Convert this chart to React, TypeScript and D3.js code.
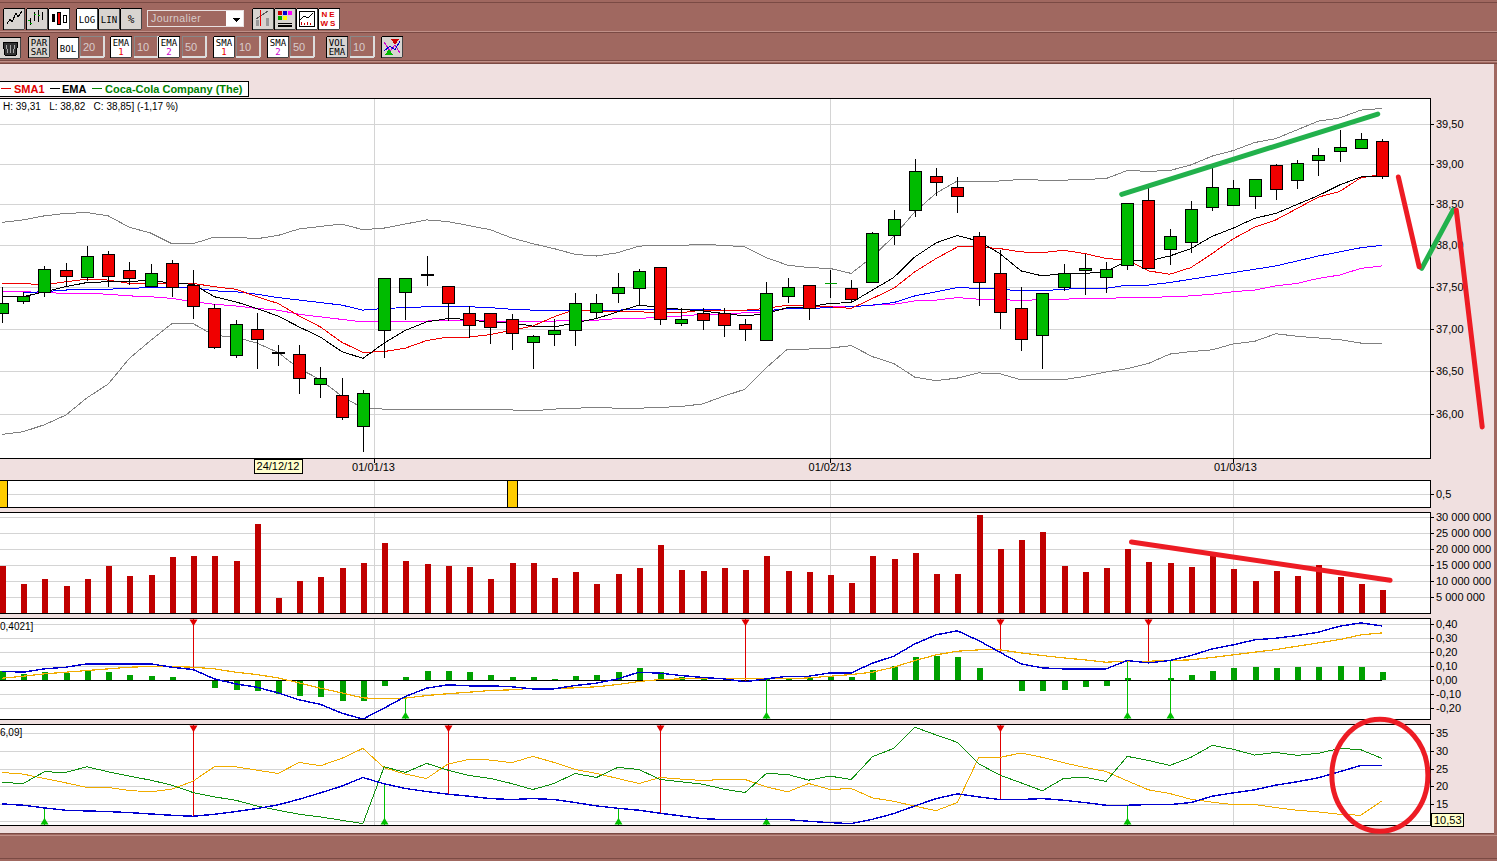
import React from 'react'
import * as d3 from 'd3'

const WIDTH = 1497
const HEIGHT = 861
const RIGHT = 1430

// candles, one per trading day from idx 0
const opens = [37.19, 37.33, 37.44, 37.7, 37.62, 37.89, 37.7, 37.51, 37.79, 37.52, 37.25, 36.69, 37.0, 36.72, 36.7, 36.35, 36.22, 35.87, 36.99, 37.44, 37.65, 37.51, 37.19, 37.19, 37.12, 36.84, 36.94, 36.99, 37.2, 37.43, 37.49, 37.74, 37.07, 37.19, 37.18, 37.06, 36.87, 37.39, 37.52, 37.54, 37.48, 37.56, 38.13, 38.43, 38.85, 38.71, 38.11, 37.67, 37.24, 36.93, 37.5, 37.7, 37.62, 37.76, 38.56, 37.95, 38.04, 38.47, 38.49, 38.6, 38.99, 38.8, 39.05, 39.17, 39.2, 39.29]
const highs = [37.5, 37.44, 37.75, 37.78, 37.99, 37.93, 37.8, 37.77, 37.82, 37.7, 37.29, 37.1, 37.19, 36.805, 36.805, 36.55, 36.42, 36.28, 37.6, 37.6, 37.87, 37.51, 37.27, 37.19, 37.17, 36.93, 37.11, 37.43, 37.41, 37.66, 37.71, 37.74, 37.25, 37.25, 37.25, 37.11, 37.56, 37.61, 37.52, 37.7, 37.58, 38.16, 38.43, 39.06, 38.95, 38.84, 38.16, 37.94, 37.5, 37.42, 37.77, 37.9, 37.8, 38.52, 38.7, 38.2, 38.54, 38.95, 38.8, 38.82, 39.0, 39.05, 39.2, 39.43, 39.39, 39.31]
const lows = [37.07, 37.29, 37.38, 37.5, 37.57, 37.5, 37.52, 37.5, 37.38, 37.11, 36.76, 36.65, 36.52, 36.565, 36.23, 36.19, 35.94, 35.565, 36.66, 37.1, 37.51, 37.09, 36.89, 36.82, 36.75, 36.52, 36.8, 36.8, 37.12, 37.31, 37.28, 37.04, 37.03, 36.99, 36.9, 36.86, 36.86, 37.3, 37.1, 37.36, 37.3, 37.56, 38.0, 38.35, 38.6, 38.4, 37.27, 37.0, 36.74, 36.53, 37.45, 37.4, 37.42, 37.7, 37.72, 37.76, 37.91, 38.42, 38.49, 38.45, 38.56, 38.69, 38.85, 39.03, 39.19, 38.82]
const closes = [37.31, 37.385, 37.71, 37.63, 37.865, 37.63, 37.6, 37.66, 37.5, 37.27, 36.78, 37.05, 36.88, 36.72, 36.42, 36.42, 35.965, 36.245, 37.6, 37.6, 37.65, 37.3, 37.04, 37.02, 36.95, 36.91, 36.99, 37.31, 37.31, 37.5, 37.69, 37.12, 37.12, 37.1, 37.04, 37.0, 37.42, 37.5, 37.24, 37.54, 37.35, 38.15, 38.32, 38.91, 38.775, 38.61, 37.56, 37.2, 36.88, 37.42, 37.67, 37.73, 37.71, 38.52, 37.72, 38.11, 38.45, 38.72, 38.7, 38.82, 38.69, 39.02, 39.12, 39.22, 39.31, 38.85]
const thinDoji = [39]

// overlays on the price panel
const bollUpper = [38.28, 38.31, 38.36, 38.39, 38.4, 38.36, 38.22, 38.15, 38.02, 38.02, 38.1, 38.1, 38.08, 38.12, 38.2, 38.23, 38.26, 38.19, 38.21, 38.26, 38.31, 38.29, 38.24, 38.19, 38.09, 38.02, 37.96, 37.89, 37.87, 37.91, 37.99, 38.0, 38.0, 38.01, 38.0, 37.98, 37.85, 37.76, 37.73, 37.72, 37.66, 37.86, 38.11, 38.41, 38.64, 38.79, 38.78, 38.79, 38.81, 38.8, 38.8, 38.81, 38.82, 38.92, 38.91, 38.92, 38.99, 39.1, 39.17, 39.27, 39.32, 39.43, 39.54, 39.58, 39.68, 39.7]
const bollLower = [35.77, 35.8, 35.88, 35.99, 36.19, 36.35, 36.65, 36.86, 37.06, 37.06, 36.92, 36.9, 36.83, 36.72, 36.53, 36.4, 36.21, 36.07, 36.06, 36.06, 36.06, 36.06, 36.05, 36.05, 36.05, 36.04, 36.06, 36.07, 36.08, 36.07, 36.07, 36.08, 36.09, 36.12, 36.21, 36.29, 36.54, 36.76, 36.76, 36.77, 36.8, 36.67, 36.59, 36.43, 36.39, 36.42, 36.48, 36.47, 36.4, 36.4, 36.4, 36.44, 36.49, 36.53, 36.59, 36.7, 36.73, 36.75, 36.82, 36.85, 36.94, 36.91, 36.89, 36.87, 36.83, 36.83]
const ema1 = [37.38, 37.38, 37.44, 37.5, 37.55, 37.56, 37.56, 37.58, 37.54, 37.53, 37.38, 37.32, 37.24, 37.15, 37.02, 36.9, 36.73, 36.65, 36.83, 36.98, 37.08, 37.12, 37.11, 37.07, 37.07, 37.03, 37.02, 37.07, 37.12, 37.2, 37.28, 37.25, 37.23, 37.21, 37.18, 37.15, 37.18, 37.25, 37.26, 37.3, 37.31, 37.46, 37.61, 37.86, 38.03, 38.12, 38.05, 37.9, 37.69, 37.63, 37.66, 37.66, 37.68, 37.81, 37.81, 37.87, 37.96, 38.11, 38.21, 38.33, 38.39, 38.5, 38.61, 38.74, 38.84, 38.85]
const sma1 = [37.54, 37.54, 37.52, 37.56, 37.59, 37.58, 37.54, 37.53, 37.54, 37.54, 37.5, 37.47, 37.38, 37.3, 37.15, 37.02, 36.84, 36.72, 36.73, 36.77, 36.86, 36.9, 36.9, 36.93, 36.98, 37.03, 37.14, 37.23, 37.2, 37.2, 37.2, 37.19, 37.19, 37.22, 37.22, 37.22, 37.24, 37.28, 37.27, 37.26, 37.24, 37.36, 37.48, 37.68, 37.84, 37.98, 37.98, 37.96, 37.92, 37.91, 37.94, 37.9, 37.84, 37.82, 37.69, 37.65, 37.73, 37.9, 38.08, 38.22, 38.31, 38.45, 38.59, 38.66, 38.83, 38.87]
const ema2 = [null, 37.43, 37.44, 37.46, 37.47, 37.47, 37.48, 37.49, 37.49, 37.49, 37.45, 37.44, 37.41, 37.37, 37.34, 37.31, 37.28, 37.22, 37.24, 37.25, 37.26, 37.26, 37.26, 37.25, 37.23, 37.22, 37.21, 37.21, 37.21, 37.22, 37.23, 37.23, 37.23, 37.23, 37.22, 37.21, 37.21, 37.24, 37.24, 37.25, 37.26, 37.28, 37.31, 37.39, 37.44, 37.49, 37.48, 37.47, 37.45, 37.45, 37.47, 37.48, 37.48, 37.52, 37.52, 37.55, 37.59, 37.63, 37.67, 37.71, 37.75, 37.81, 37.87, 37.92, 37.97, 38.0]
const sma2 = [37.44, 37.44, 37.43, 37.42, 37.42, 37.41, 37.39, 37.38, 37.36, 37.32, 37.29, 37.27, 37.24, 37.22, 37.17, 37.14, 37.11, 37.08, 37.08, 37.09, 37.09, 37.1, 37.1, 37.09, 37.09, 37.09, 37.09, 37.1, 37.1, 37.12, 37.12, 37.14, 37.15, 37.17, 37.17, 37.19, 37.2, 37.24, 37.26, 37.26, 37.26, 37.28, 37.29, 37.33, 37.34, 37.37, 37.35, 37.35, 37.33, 37.35, 37.35, 37.36, 37.36, 37.37, 37.37, 37.38, 37.39, 37.41, 37.44, 37.46, 37.51, 37.54, 37.6, 37.64, 37.72, 37.75]

// volume, in millions of shares
const volumes = [14.8, 9.2, 10.7, 8.5, 10.7, 14.8, 11.7, 12, 17.6, 17.9, 17.9, 16.4, 27.9, 4.8, 10.1, 11.4, 14.2, 15.7, 22, 16.4, 15.4, 14.8, 14.5, 10.7, 15.7, 15.7, 11, 12.9, 9.2, 12.3, 14.2, 21.4, 13.5, 13.2, 14.2, 13.5, 17.9, 13.2, 12.9, 12, 9.5, 17.9, 17, 18.9, 12.3, 12.3, 30.7, 20.1, 22.9, 25.4, 14.8, 12.9, 14.2, 20.1, 16, 15.7, 14.5, 17.9, 13.9, 10.1, 13.2, 11.7, 15.1, 11.4, 9.2, 7.3]

// MACD panel
const macdLine = [0.062, 0.055, 0.079, 0.091, 0.115, 0.115, 0.115, 0.115, 0.091, 0.074, 0.007, -0.029, -0.053, -0.094, -0.144, -0.177, -0.24, -0.283, -0.204, -0.12, -0.06, -0.036, -0.043, -0.043, -0.05, -0.065, -0.065, -0.041, -0.024, 0.007, 0.055, 0.048, 0.031, 0.017, 0.007, -0.014, 0.007, 0.026, 0.026, 0.05, 0.05, 0.12, 0.17, 0.259, 0.324, 0.353, 0.283, 0.199, 0.115, 0.086, 0.079, 0.079, 0.079, 0.139, 0.122, 0.139, 0.175, 0.223, 0.252, 0.288, 0.3, 0.319, 0.343, 0.386, 0.41, 0.388]
const macdSignal = [0.012, 0.026, 0.043, 0.055, 0.067, 0.079, 0.091, 0.096, 0.096, 0.091, 0.079, 0.055, 0.038, 0.014, -0.022, -0.06, -0.094, -0.13, -0.137, -0.132, -0.113, -0.1, -0.089, -0.077, -0.072, -0.06, -0.06, -0.058, -0.05, -0.034, -0.012, 0.002, 0.007, 0.007, 0.007, 0.007, 0.007, 0.007, 0.014, 0.026, 0.038, 0.055, 0.091, 0.139, 0.18, 0.206, 0.216, 0.216, 0.194, 0.175, 0.158, 0.144, 0.127, 0.134, 0.134, 0.139, 0.144, 0.161, 0.18, 0.199, 0.218, 0.242, 0.266, 0.29, 0.324, 0.338]
const macdHist = [0.062, 0.043, 0.053, 0.048, 0.062, 0.053, 0.038, 0.031, 0.017, -0.012, -0.062, -0.07, -0.084, -0.101, -0.12, -0.127, -0.156, -0.149, -0.048, 0.024, 0.067, 0.067, 0.053, 0.038, 0.024, 0.017, 0.007, 0.031, 0.038, 0.06, 0.082, 0.053, 0.024, 0.01, 0.002, -0.005, 0.005, 0.014, 0.019, 0.024, 0.024, 0.074, 0.103, 0.161, 0.175, 0.161, 0.082, 0, -0.077, -0.084, -0.07, -0.055, -0.048, 0.01, 0, 0.01, 0.038, 0.067, 0.082, 0.096, 0.082, 0.096, 0.096, 0.103, 0.096, 0.06]
const macdSells = [9, 35, 47, 54]
const macdBuys = [19, 36, 53, 55]

// DMI panel
const adx = [14.94, 14.56, 13.8, 13.14, 12.95, 12.76, 12.47, 12.09, 11.71, 11.43, 12.0, 12.76, 13.61, 14.66, 16.27, 18.08, 19.98, 22.45, 20.65, 19.32, 18.46, 17.7, 17.13, 16.46, 16.18, 16.46, 16.18, 15.32, 14.37, 13.71, 13.14, 12.28, 11.52, 10.76, 10.48, 10.48, 10.48, 10.48, 10.0, 9.62, 9.33, 10.57, 12.19, 14.37, 16.46, 17.79, 16.94, 16.18, 16.18, 16.46, 15.99, 15.32, 14.56, 14.56, 14.75, 14.75, 15.32, 17.13, 18.08, 18.94, 20.27, 21.22, 22.36, 24.07, 25.87, 25.87]
const diPlus = [21.03, 20.74, 24.07, 23.88, 25.49, 24.07, 22.83, 21.69, 20.27, 18.17, 16.94, 15.99, 14.37, 13.14, 12.0, 11.24, 10.29, 9.33, 25.49, 23.88, 26.44, 24.54, 23.02, 22.17, 20.74, 19.03, 20.74, 23.59, 22.45, 25.3, 24.73, 21.88, 21.22, 20.55, 19.13, 18.17, 23.59, 23.31, 21.69, 22.83, 21.88, 28.35, 30.72, 36.71, 34.52, 32.43, 26.35, 23.12, 20.93, 18.65, 22.17, 22.55, 21.31, 28.44, 27.3, 25.87, 28.16, 31.58, 30.44, 28.82, 29.58, 28.73, 29.3, 30.72, 30.34, 27.87]
const diMinus = [23.88, 23.4, 22.17, 20.93, 19.6, 19.6, 18.75, 18.37, 19.13, 21.41, 25.49, 25.49, 24.54, 23.59, 26.73, 25.78, 27.87, 30.72, 25.21, 23.4, 22.17, 26.25, 27.59, 27.4, 26.63, 28.44, 26.73, 24.73, 23.59, 22.17, 20.74, 22.45, 21.98, 21.6, 21.88, 21.88, 19.79, 18.37, 20.74, 19.03, 19.32, 16.65, 15.7, 14.28, 13.04, 15.32, 28.06, 28.16, 29.39, 28.16, 26.63, 25.3, 24.16, 21.5, 18.94, 17.89, 16.27, 15.42, 14.75, 14.75, 13.9, 13.14, 12.66, 12.0, 11.71, 15.8]
const dmiSells = [9, 21, 31, 47]
const dmiBuys = [2, 18, 29, 36, 53]

// top strip markers
const stripMarks = [0, 24]

// ticks
const priceTicks = [39.5, 39, 38.5, 38, 37.5, 37, 36.5, 36]
const volumeTicks = [30, 25, 20, 15, 10, 5]
const macdTicks = [0.4, 0.3, 0.2, 0.1, 0, -0.1, -0.2]
const dmiTicks = [35, 30, 25, 20, 15, 10]
const dmiLabels = [35, 30, 25, 20, 15]
const monthTicks = [
  { idx: 17.5, label: '01/01/13' },
  { idx: 39, label: '01/02/13' },
  { idx: 58, label: '01/03/13' },
]

// hand drawn marks, [idx, value]
const greenTrend: [number, number][] = [[52.74, 38.625], [64.8, 39.63]]
const redDrop1: [number, number][] = [[65.77, 38.84], [66.75, 37.74]]
const greenBounce: [number, number][] = [[66.87, 37.72], [68.35, 38.43]]
const redDrop2: [number, number][] = [[68.5, 38.43], [69.72, 35.855]]
const volumeTrend: [number, number][] = [[53.2, 22.3], [65.38, 10.3]]

const x = d3.scaleLinear().domain([0, 65]).range([2, 1382])
const cx = (i: number) => Math.round(x(i)) + 0.5

const main = { top: 98.5, bottom: 458.5 }
const strip = { top: 480.5, bottom: 507.5 }
const vol = { top: 512.5, bottom: 613.5 }
const macd = { top: 618.5, bottom: 719.5 }
const dmi = { top: 724.5, bottom: 825.5 }

const yPrice = d3.scaleLog().domain([36, 39.5]).range([414.3, 124.3])
const yVol = d3.scaleLinear().domain([0, 30]).range([613.3, 517.3])
const yMacd = d3.scaleLinear().domain([-0.2, 0.4]).range([707.6, 624.3])
const yDmi = d3.scaleLinear().domain([15, 35]).range([803.7, 733.3])

const commaFmt = (f: string) => {
  const fmt = d3.format(f)
  return (v: number) => fmt(v).replace('−', '-').replace('.', ',')
}
const fmtPrice = commaFmt('.2f')
const fmtVol = (m: number) => `${m >= 10 ? Math.floor(m) : m} 000 000`

const seriesPath = (values: (number | null)[], y: (v: number) => number) =>
  d3
    .line<number | null>()
    .defined(v => v != null)
    .x((_, i) => x(i))
    .y(v => y(v as number))(values) as string

const handPath = (pts: [number, number][], y: (v: number) => number) =>
  d3
    .line<[number, number]>()
    .x(d => x(d[0]))
    .y(d => y(d[1]))(pts) as string

const BROWN = '#a06860'
const PINK = '#f0e0e0'
const GRID = '#d4d4d4'
const AXIS_FONT = '"Liberation Sans", Arial, sans-serif'
const HAND_RED = '#ed1c24'
const HAND_GREEN = '#22b14c'

const Panel = ({ box, ticks, y }: { box: { top: number; bottom: number }; ticks: number[]; y: (v: number) => number }) => (
  <g shapeRendering="crispEdges">
    <rect x={-2} y={box.top} width={RIGHT + 2} height={box.bottom - box.top} fill="#fff" />
    {ticks.map(t => (
      <line key={t} x1={0} x2={RIGHT} y1={Math.round(y(t)) + 0.5} y2={Math.round(y(t)) + 0.5} stroke={GRID} />
    ))}
    {monthTicks.map(t => (
      <line key={t.label} x1={Math.round(x(t.idx)) + 0.5} x2={Math.round(x(t.idx)) + 0.5} y1={box.top} y2={box.bottom} stroke={GRID} />
    ))}
  </g>
)

const PanelFrame = ({ box }: { box: { top: number; bottom: number } }) => (
  <rect x={-2} y={box.top} width={RIGHT + 2.5} height={box.bottom - box.top} fill="none" stroke="#000" shapeRendering="crispEdges" />
)

const AxisLabels = ({ ticks, y, fmt }: { ticks: number[]; y: (v: number) => number; fmt: (v: number) => string }) => (
  <g fontFamily={AXIS_FONT} fontSize={11} fill="#000">
    {ticks.map(t => (
      <g key={t}>
        <line x1={RIGHT} x2={RIGHT + 4} y1={Math.round(y(t)) + 0.5} y2={Math.round(y(t)) + 0.5} stroke="#000" shapeRendering="crispEdges" />
        <text x={RIGHT + 6} y={y(t) + 4}>
          {fmt(t)}
        </text>
      </g>
    ))}
  </g>
)

const Signals = ({
  box,
  sells,
  buys,
  values,
  y,
}: {
  box: { top: number; bottom: number }
  sells: number[]
  buys: number[]
  values: number[]
  y: (v: number) => number
}) => (
  <g>
    {sells.map(i => (
      <g key={`s${i}`}>
        <line x1={cx(i)} x2={cx(i)} y1={box.top} y2={y(values[i])} stroke="#e00000" shapeRendering="crispEdges" />
        <path d={`M${cx(i) - 4},${box.top + 1}h8l-3,5l-1,2l-1,-2z`} fill="#e00000" />
      </g>
    ))}
    {buys.map(i => (
      <g key={`b${i}`}>
        <line x1={cx(i)} x2={cx(i)} y1={box.bottom} y2={y(values[i])} stroke="#00c000" shapeRendering="crispEdges" />
        <path d={`M${cx(i) - 4},${box.bottom - 1}h8l-3,-5l-1,-2l-1,2z`} fill="#00c000" />
      </g>
    ))}
  </g>
)

const Button = ({
  bx,
  by,
  w = 21,
  h = 21,
  on = false,
  lines = [],
  sub,
  subColor,
  children,
}: {
  bx: number
  by: number
  w?: number
  h?: number
  on?: boolean
  lines?: string[]
  sub?: string
  subColor?: string
  children?: React.ReactNode
}) => (
  <g>
    <rect x={bx + 0.5} y={by + 0.5} width={w} height={h} rx={1.5} fill={on ? '#fff' : '#d8d4d0'} stroke="#000" />
    <line x1={bx + 1} x2={bx + w} y1={by + h} y2={by + h} stroke="#444" />
    <line x1={bx + w} x2={bx + w} y1={by + 1} y2={by + h} stroke="#444" />
    {lines.map((t, i) => (
      <text
        key={t}
        x={bx + w / 2 + 0.5}
        y={by + (lines.length === 1 && !sub ? 15 : 10) + i * 9}
        textAnchor="middle"
        fontFamily='"DejaVu Sans Mono", monospace'
        fontSize={t === '%' ? 11 : 9}
        fill="#000"
      >
        {t}
      </text>
    ))}
    {sub && (
      <text x={bx + w / 2 + 0.5} y={by + 19} textAnchor="middle" fontFamily='"DejaVu Sans Mono", monospace' fontSize={9} fill={subColor}>
        {sub}
      </text>
    )}
    {children}
  </g>
)

const InputBox = ({ bx, by, label }: { bx: number; by: number; label: string }) => (
  <g>
    <rect x={bx + 0.5} y={by + 0.5} width={23} height={20} fill={BROWN} stroke="#888" strokeWidth={1.5} />
    <rect x={bx + 23} y={by} width={1.5} height={21} fill="#ddd" />
    <rect x={bx} y={by + 20} width={24} height={1.5} fill="#ddd" />
    <text x={bx + 3} y={by + 15} fontFamily={AXIS_FONT} fontSize={11} fill="#d8cccc">
      {label}
    </text>
  </g>
)

const Toolbar = () => (
  <g shapeRendering="crispEdges">
    <rect x={0} y={0} width={WIDTH} height={64} fill={BROWN} />
    <rect x={0} y={2} width={WIDTH} height={1} fill="#7a4a44" />
    <rect x={0} y={31} width={WIDTH} height={1} fill="#c09088" />
    <rect x={0} y={32} width={WIDTH} height={1} fill="#7a4a44" />
    <rect x={0} y={60} width={WIDTH} height={1} fill="#7a4a44" />
    <rect x={0} y={61} width={WIDTH} height={1} fill="#c09088" />
    <rect x={0} y={63} width={WIDTH} height={1} fill="#7a4a44" />

    <Button bx={3} by={8}>
      <path d="M7,24l3,-5l2,3l4,-9l2,4l4,-6" fill="none" stroke="#000" />
    </Button>
    <Button bx={26} by={8}>
      <path d="M30,18v7M34,12v9M38,10v12M42,12v8" stroke="#000" fill="none" />
      <path d="M28,20h2M30,23h2M34,14h2M38,15h2" stroke="#0a0" fill="none" />
    </Button>
    <Button bx={48} by={8} on>
      <rect x={52} y={14} width={3} height={8} fill="#000" />
      <rect x={57} y={12} width={3} height={12} fill="#e00" stroke="#000" />
      <rect x={63} y={15} width={3} height={7} fill="#fff" stroke="#000" />
    </Button>
    <Button bx={76} by={8} on lines={['LOG']} />
    <Button bx={98} by={8} lines={['LIN']} />
    <Button bx={120} by={8} lines={['%']} />

    <rect x={147.5} y={10.5} width={96} height={16} fill={BROWN} stroke="#e8e0e0" strokeWidth={1.5} />
    <rect x={226} y={11} width={17} height={15} fill="#fff" />
    <path d="M232,18h8l-4,4z" fill="#000" />
    <text x={151} y={22} fontFamily={AXIS_FONT} fontSize={10.5} fill="#d8cccc" letterSpacing={0.4}>
      Journalier
    </text>

    <Button bx={252} by={8}>
      <rect x={256} y={20} width={3} height={6} fill="#999" />
      <rect x={266} y={18} width={3} height={8} fill="#999" />
      <path d="M256,19l6,-4l6,-4" stroke="#555" fill="none" />
      <path d="M260.5,10v16" stroke="#e00" fill="none" />
    </Button>
    <Button bx={274} by={8}>
      <rect x={278} y={11} width={4} height={4} fill="#c00" />
      <rect x={283} y={11} width={4} height={4} fill="#00c" />
      <rect x={288} y={11} width={4} height={4} fill="#f0f" />
      <rect x={278} y={16} width={4} height={4} fill="#0a0" />
      <rect x={283} y={16} width={4} height={4} fill="#ff0" />
      <rect x={278} y={23} width={14} height={1} fill="#000" />
      <rect x={278} y={25} width={14} height={2} fill="#000" />
    </Button>
    <Button bx={296} by={8} on>
      <rect x={299} y={11} width={15} height={15} fill="none" stroke="#000" />
      <path d="M300,20l4,-4l4,2l5,-5" stroke="#000" fill="none" />
      <path d="M301,25v-3M304,25v-2M307,25v-3M310,25v-2" stroke="#c00" fill="none" />
    </Button>
    <Button bx={318} by={8} on>
      <text x={329} y={17} textAnchor="middle" fontFamily={AXIS_FONT} fontWeight="bold" fontSize={8} letterSpacing={2} fill="#d00">
        NE
      </text>
      <text x={329} y={26} textAnchor="middle" fontFamily={AXIS_FONT} fontWeight="bold" fontSize={8} letterSpacing={2} fill="#d00">
        WS
      </text>
    </Button>

    <Button bx={-1} by={37}>
      <path d="M3,42h15l-2,13h-11z" fill="#333" stroke="#000" />
      <path d="M6,45l2,8M10,45v8M15,45l-2,8" stroke="#aaa" fill="none" />
    </Button>
    <Button bx={28} by={36} lines={['PAR', 'SAR']} />
    <Button bx={57} by={37} on lines={['BOL']} />
    <InputBox bx={80} by={36} label="20" />
    <Button bx={110} by={36} on lines={['EMA']} sub="1" subColor="#e00" />
    <InputBox bx={134} by={36} label="10" />
    <Button bx={158} by={36} on lines={['EMA']} sub="2" subColor="#c0c" />
    <InputBox bx={182} by={36} label="50" />
    <Button bx={213} by={36} on lines={['SMA']} sub="1" subColor="#e00" />
    <InputBox bx={236} by={36} label="10" />
    <Button bx={267} by={36} on lines={['SMA']} sub="2" subColor="#c0c" />
    <InputBox bx={290} by={36} label="50" />
    <Button bx={326} by={36} lines={['VOL', 'EMA']} />
    <InputBox bx={350} by={36} label="10" />
    <Button bx={381} by={36}>
      <path d="M384,42l6,9l5,-6l5,8" stroke="#c0c" fill="none" />
      <path d="M384,51l6,-5l5,4l5,-9" stroke="#00c" fill="none" />
      <path d="M391,39h8l-4,6z" fill="#c00" />
      <path d="M385,55h8l-4,-6z" fill="#0b0" />
    </Button>
  </g>
)

export default function App() {
  return (
    <svg
      width={WIDTH}
      height={HEIGHT}
      viewBox={`0 0 ${WIDTH} ${HEIGHT}`}
      style={{ position: 'absolute', left: 0, top: 0, display: 'block' }}
    >
      <rect width={WIDTH} height={HEIGHT} fill={PINK} />
      <Toolbar />

      {/* bottom and right window edges */}
      <g shapeRendering="crispEdges">
        <rect x={0} y={833} width={WIDTH} height={28} fill={BROWN} />
        <rect x={0} y={833} width={WIDTH} height={1} fill="#7a4a44" />
        <rect x={0} y={835} width={WIDTH} height={1} fill="#c09088" />
        <rect x={0} y={858} width={WIDTH} height={1} fill="#7a4a44" />
        <rect x={1494} y={64} width={3} height={770} fill={BROWN} />
      </g>

      {/* legend */}
      <g fontFamily={AXIS_FONT} fontSize={11} fontWeight="bold">
        <rect x={-2} y={81.5} width={250.5} height={15} fill="#fff" stroke="#000" shapeRendering="crispEdges" />
        <line x1={1} x2={11} y1={88.5} y2={88.5} stroke="#e00000" shapeRendering="crispEdges" />
        <text x={14} y={93} fill="#e00000">SMA1</text>
        <line x1={50} x2={60} y1={88.5} y2={88.5} stroke="#000" shapeRendering="crispEdges" />
        <text x={62} y={93} fill="#000">EMA</text>
        <line x1={92} x2={102} y1={88.5} y2={88.5} stroke="#008000" shapeRendering="crispEdges" />
        <text x={105} y={93} fill="#008000">Coca-Cola Company (The)</text>
      </g>

      {/* price panel */}
      <Panel box={main} ticks={priceTicks} y={yPrice} />
      <g fill="none" shapeRendering="crispEdges">
        <path d={seriesPath(bollUpper, yPrice)} stroke="#808080" />
        <path d={seriesPath(bollLower, yPrice)} stroke="#808080" />
        <path d={seriesPath(sma2, yPrice)} stroke="#ff00ff" />
        <path d={seriesPath(ema2, yPrice)} stroke="#0000ff" />
        <path d={seriesPath(sma1, yPrice)} stroke="#f00000" />
        <path d={seriesPath(ema1, yPrice)} stroke="#000" />
      </g>
      <g shapeRendering="crispEdges">
        {opens.map((o, i) => {
          const c = closes[i]
          const top = Math.round(yPrice(Math.max(o, c))) + 0.5
          const bottom = Math.round(yPrice(Math.min(o, c))) + 0.5
          return (
            <g key={i}>
              <line x1={cx(i)} x2={cx(i)} y1={yPrice(highs[i])} y2={yPrice(lows[i])} stroke="#000" />
              {o === c ? (
                thinDoji.includes(i) ? (
                  <line x1={cx(i) - 6} x2={cx(i) + 6} y1={top} y2={top} stroke="#00a000" />
                ) : (
                  <rect x={cx(i) - 6.5} y={top - 0.5} width={13} height={2} fill="#000" />
                )
              ) : (
                <rect
                  x={cx(i) - 6}
                  y={top}
                  width={12}
                  height={bottom - top}
                  fill={c > o ? '#00bb00' : '#f00000'}
                  stroke="#000"
                />
              )}
            </g>
          )
        })}
      </g>
      <PanelFrame box={main} />
      <text x={3} y={110} fontFamily={AXIS_FONT} fontSize={10} fill="#000" xmlSpace="preserve">
        {'H: 39,31   L: 38,82   C: 38,85] (-1,17 %)'}
      </text>
      <AxisLabels ticks={priceTicks} y={yPrice} fmt={fmtPrice} />
      <g fontFamily={AXIS_FONT} fontSize={11} textAnchor="middle">
        {monthTicks.map(t => (
          <g key={t.label}>
            <line x1={Math.round(x(t.idx)) + 0.5} x2={Math.round(x(t.idx)) + 0.5} y1={main.bottom} y2={main.bottom + 4} stroke="#000" shapeRendering="crispEdges" />
            <text x={x(t.idx) + (t.idx === 58 ? 2 : 0)} y={471}>
              {t.label}
            </text>
          </g>
        ))}
        <rect x={254.5} y={459.5} width={48} height={14} fill="#ffffcc" stroke="#000" shapeRendering="crispEdges" />
        <text x={x(13)} y={470}>24/12/12</text>
      </g>

      {/* strip */}
      <Panel box={strip} ticks={[0.5]} y={() => 494} />
      <g shapeRendering="crispEdges">
        {stripMarks.map(i => (
          <rect key={i} x={cx(i) - 5} y={strip.top} width={10} height={strip.bottom - strip.top} fill="#ffcc00" stroke="#000" />
        ))}
      </g>
      <PanelFrame box={strip} />
      <AxisLabels ticks={[0.5]} y={() => 494} fmt={commaFmt('.1f')} />

      {/* volume */}
      <Panel box={vol} ticks={volumeTicks} y={yVol} />
      <g shapeRendering="crispEdges">
        {volumes.map((v, i) => (
          <rect key={i} x={cx(i) - 3} y={yVol(v)} width={6} height={yVol(0) - yVol(v)} fill="#c00000" />
        ))}
      </g>
      <PanelFrame box={vol} />
      <AxisLabels ticks={volumeTicks} y={yVol} fmt={fmtVol} />

      {/* macd */}
      <Panel box={macd} ticks={macdTicks} y={yMacd} />
      <g shapeRendering="crispEdges">
        {macdHist.map((v, i) => (
          <rect
            key={i}
            x={cx(i) - 3}
            y={Math.min(yMacd(v), yMacd(0))}
            width={6}
            height={Math.abs(yMacd(v) - yMacd(0))}
            fill="#00a000"
          />
        ))}
        <line x1={0} x2={x(65)} y1={Math.round(yMacd(0)) + 0.5} y2={Math.round(yMacd(0)) + 0.5} stroke="#000" />
      </g>
      <Signals box={macd} sells={macdSells} buys={macdBuys} values={macdLine} y={yMacd} />
      <g fill="none" shapeRendering="crispEdges">
        <path d={seriesPath(macdSignal, yMacd)} stroke="#f0ac00" strokeWidth={1.2} />
        <path d={seriesPath(macdLine, yMacd)} stroke="#0000d0" strokeWidth={1.4} />
      </g>
      <PanelFrame box={macd} />
      <text x={0} y={630} fontFamily={AXIS_FONT} fontSize={10} fill="#000">0,4021]</text>
      <AxisLabels ticks={macdTicks} y={yMacd} fmt={commaFmt('.2f')} />

      {/* dmi */}
      <Panel box={dmi} ticks={dmiTicks} y={yDmi} />
      <Signals box={dmi} sells={dmiSells} buys={dmiBuys} values={adx} y={yDmi} />
      <g fill="none" shapeRendering="crispEdges">
        <path d={seriesPath(diMinus, yDmi)} stroke="#f0ac00" />
        <path d={seriesPath(diPlus, yDmi)} stroke="#109010" />
        <path d={seriesPath(adx, yDmi)} stroke="#0000d0" strokeWidth={1.4} />
      </g>
      <PanelFrame box={dmi} />
      <text x={0} y={736} fontFamily={AXIS_FONT} fontSize={10} fill="#000">6,09]</text>
      <AxisLabels ticks={dmiLabels} y={yDmi} fmt={d3.format('d')} />
      <g fontFamily={AXIS_FONT} fontSize={11}>
        <rect x={1431.5} y={813.5} width={32} height={13} fill="#ffffcc" stroke="#000" shapeRendering="crispEdges" />
        <text x={1434} y={824}>10,53</text>
      </g>

      {/* hand drawn marks */}
      <g fill="none" strokeWidth={5} strokeLinecap="round">
        <path d={handPath(greenTrend, yPrice)} stroke={HAND_GREEN} />
        <path d={handPath(greenBounce, yPrice)} stroke={HAND_GREEN} />
        <path d={handPath(redDrop1, yPrice)} stroke={HAND_RED} />
        <path d={handPath(redDrop2, yPrice)} stroke={HAND_RED} />
        <path d={handPath(volumeTrend, yVol)} stroke={HAND_RED} />
        <ellipse cx={x(64.9)} cy={yDmi(23.1)} rx={48} ry={56} stroke={HAND_RED} />
      </g>
    </svg>
  )
}
